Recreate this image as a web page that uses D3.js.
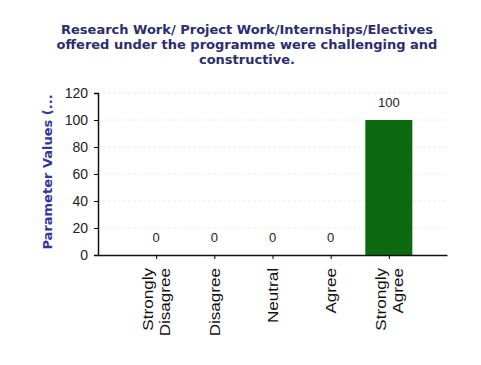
<!DOCTYPE html>
<html>
<head>
<meta charset="utf-8">
<script src="https://cdn.jsdelivr.net/npm/d3@7"></script>
<style>
  body { margin: 0; background: #fff; }
  svg { display: block; }
</style>
</head>
<body>
<script>
// chart data
const categories = ["Strongly Disagree", "Disagree", "Neutral", "Agree", "Strongly Agree"];
const values = [0, 0, 0, 0, 100];
const yTicks = [0, 20, 40, 60, 80, 100, 120];
const titleLines = [
    "Research Work/ Project Work/Internships/Electives",
    "offered under the programme were challenging and",
    "constructive."
];
const yAxisTitle = "Parameter Values (...";

const W = 481, H = 365;
const margin = { top: 93, left: 98, right: 34, bottom: 110 };
const width = W - margin.left - margin.right;
const height = H - margin.top - margin.bottom;

const svg = d3.select('body').append('svg')
    .attr('width', W)
    .attr('height', H);

// Title
svg.append("text")
    .attr("x", 247)
    .attr("y", 34)
    .attr("text-anchor", "middle")
    .style("font-family", "'DejaVu Sans', Verdana, sans-serif")
    .style("font-weight", "bold")
    .style("font-size", "13px")
    .style("fill", "#2b2d6e")
    .selectAll("tspan")
    .data(titleLines)
    .enter()
    .append("tspan")
    .attr("x", 247)
    .attr("dy", (d, i) => i === 0 ? 0 : 15)
    .text(d => d);

const g = svg.append('g')
    .attr('transform', `translate(${margin.left}, ${margin.top})`);

// scales
var x = d3.scalePoint()
    .domain(categories)
    .range([0, width])
    .padding(1);

var y = d3.scaleLinear()
    .domain([0, 120])
    .range([height, 0]);

// faint gridlines
g.append("g")
    .selectAll("line")
    .data(yTicks.filter(t => t > 0))
    .enter()
    .append("line")
    .attr("x1", 0)
    .attr("x2", width)
    .attr("y1", d => y(d))
    .attr("y2", d => y(d))
    .style("stroke", "#ececec")
    .style("stroke-dasharray", "3,2");

// bars
const barW = 47;
g.append("g")
    .selectAll("rect")
    .data(values)
    .enter()
    .append("rect")
    .attr("x", (d, i) => x(categories[i]) - barW / 2)
    .attr("y", d => y(d))
    .attr("width", barW)
    .attr("height", d => height - y(d))
    .style("fill", "#0b6a10");

// value labels
g.append("g")
    .selectAll("text")
    .data(values)
    .enter()
    .append("text")
    .attr("x", (d, i) => x(categories[i]))
    .attr("y", d => y(d) - 13)
    .attr("text-anchor", "middle")
    .style("font-family", "'Liberation Sans', Arial, sans-serif")
    .style("font-size", "13px")
    .style("fill", "#222")
    .text(d => d);

// Y axis
const yAxis = g.append("g")
    .call(d3.axisLeft(y).tickValues(yTicks).tickSize(4).tickPadding(6));
yAxis.selectAll("text")
    .style("font-family", "'Liberation Sans', Arial, sans-serif")
    .style("font-size", "14px")
    .style("fill", "#222");
yAxis.select(".domain").style("stroke", "#111").style("stroke-width", 1.5);

// X axis
const xAxis = g.append("g")
    .attr("transform", "translate(0," + height + ")")
    .call(d3.axisBottom(x).tickSize(4).tickSizeOuter(0).tickFormat(""));
xAxis.select(".domain").style("stroke", "#111").style("stroke-width", 1.5);

// multi-line rotated category labels
const labels = xAxis.selectAll(".tick")
    .append("g")
    .attr("transform", "translate(0,13) rotate(-90) scale(1.22,1)");
labels.each(function (d) {
    const lines = d.split(" ");
    const n = lines.length;
    d3.select(this).append("text")
        .attr("text-anchor", "end")
        .style("font-family", "'Liberation Sans', Arial, sans-serif")
        .style("font-size", "14px")
        .style("fill", "#111")
        .selectAll("tspan")
        .data(lines)
        .enter()
        .append("tspan")
        .attr("x", 0)
        .attr("y", (l, i) => (i - (n - 1) / 2) * 17 + 5)
        .text(l => l);
});

// Y axis title
svg.append("text")
    .attr("transform", "translate(52,172) rotate(-90)")
    .attr("text-anchor", "middle")
    .style("font-family", "'DejaVu Sans', Verdana, sans-serif")
    .style("font-weight", "bold")
    .style("font-size", "13px")
    .style("fill", "#34389a")
    .text(yAxisTitle);
</script>
</body>
</html>
